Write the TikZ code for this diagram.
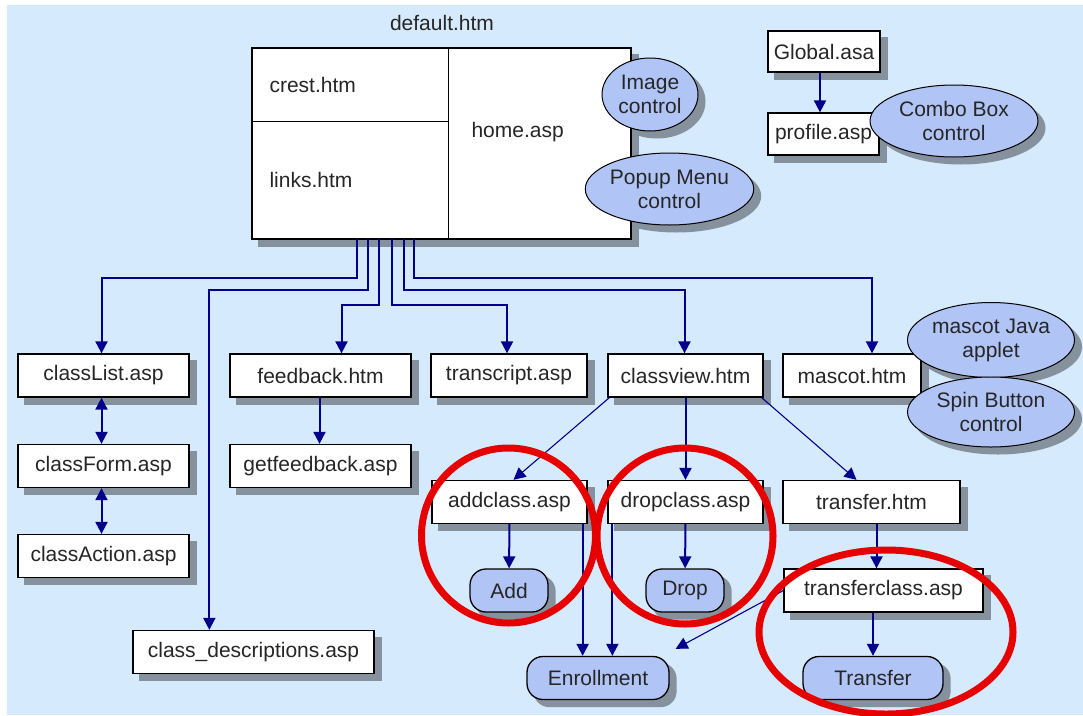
\documentclass[tikz,border=0pt]{standalone}
\usepackage{fontspec}
\setmainfont{Liberation Sans}
\usepackage{xcolor}
\usetikzlibrary{shapes.geometric,arrows.meta,backgrounds,calc}

\definecolor{pagebg}{RGB}{214,234,253}
\definecolor{navy}{RGB}{0,0,140}
\definecolor{pillblue}{RGB}{176,196,246}
\definecolor{ringred}{RGB}{230,0,0}
\colorlet{shadowgray}{black!38!pagebg}

\tikzset{
  txt/.style={font=\fontsize{21}{24}\selectfont, text=black!85},
  file/.style={txt, draw, fill=white, line width=1.3pt, inner sep=0pt, minimum height=43pt},
  pill/.style={file, fill=pillblue, rounded corners=16pt},
  ctrl/.style={txt, ellipse, draw, fill=pillblue, line width=1pt, inner sep=0pt, align=center},
  link/.style={draw=navy, line width=2pt, -{Triangle[width=12pt,length=12pt]}},
  both/.style={link, {Triangle[width=12pt,length=12pt]}-{Triangle[width=12pt,length=12pt]}},
  thin link/.style={link, line width=1.1pt},
  ring/.style={draw=ringred, line width=7pt},
}

\begin{document}
\begin{tikzpicture}[x=1pt,y=-1pt]
  \useasboundingbox (0,0) rectangle (1083,715);

  % frameset
  \node[txt] (deflabel) at (442,23) {default.htm};
  \node[file, minimum width=379pt, minimum height=191pt] (frame) at (441.5,143.5) {};
  \draw[line width=1.3pt] ([xshift=197pt]frame.north west) -- ([xshift=197pt]frame.south west);
  \draw[line width=1.3pt] ([yshift=-74pt]frame.north west) -- ([xshift=197pt,yshift=-74pt]frame.north west);
  \node[txt, anchor=west] (crest) at (266,85) {crest.htm};
  \node[txt, anchor=west] (links) at (266,180) {links.htm};
  \node[txt, anchor=west] (home) at (468,132) {home.asp};
  \node[ctrl, minimum width=96pt, minimum height=73pt] (imgctrl) at (650,94.5) {Image\\control};
  \node[ctrl, minimum width=165pt, minimum height=72pt] (popctrl) at (669.5,189) {Popup Menu\\control};

  % application files
  \node[file, minimum width=112pt, minimum height=41pt] (global) at (824,51.5) {Global.asa};
  \node[file, minimum width=111pt, minimum height=42pt] (profile) at (823.5,134) {profile.asp};
  \node[ctrl, minimum width=168pt, minimum height=72pt] (combo) at (954,121) {Combo Box\\control};

  % first row
  \node[file, minimum width=171pt] (classlist) at (103.5,375.5) {classList.asp};
  \node[file, minimum width=181pt] (feedback) at (320.5,375.5) {feedback.htm};
  \node[file, minimum width=156pt] (transcript) at (509,375.5) {transcript.asp};
  \node[file, minimum width=155pt] (classview) at (685.5,375.5) {classview.htm};
  \node[file, minimum width=138pt] (mascot) at (852,375.5) {mascot.htm};
  \node[ctrl, minimum width=167pt, minimum height=75pt] (java) at (991,340) {mascot Java\\applet};
  \node[ctrl, minimum width=167pt, minimum height=70pt] (spin) at (991,412) {Spin Button\\control};

  % below
  \node[file, minimum width=171pt] (classform) at (103.5,466) {classForm.asp};
  \node[file, minimum width=171pt] (classaction) at (103.5,556) {classAction.asp};
  \node[file, minimum width=181pt] (getfeedback) at (320.5,466) {getfeedback.asp};
  \node[file, minimum width=241pt] (classdesc) at (253.5,652) {class\_descriptions.asp};
  \node[file, minimum width=155pt] (addclass) at (509.5,502) {addclass.asp};
  \node[file, minimum width=155pt] (dropclass) at (685.5,502) {dropclass.asp};
  \node[file, minimum width=177pt] (transfer) at (871.5,502) {transfer.htm};
  \node[file, minimum width=199pt] (transferclass) at (883.5,590.5) {transferclass.asp};
  \node[pill, minimum width=78pt] (add) at (509,590.5) {Add};
  \node[pill, minimum width=78pt] (drop) at (685,590.5) {Drop};
  \node[pill, minimum width=142pt] (enroll) at (598,678) {Enrollment};
  \node[pill, minimum width=140pt] (xfer) at (873,678) {Transfer};

  % links out of the frameset
  \foreach \n/\x in {1/357,2/368,3/379,4/392,5/404,6/414}
    \coordinate (tap\n) at (\x,239);
  \draw[link] (tap1) -- ++(0,39) -| ([xshift=-2pt]classlist.north);
  \draw[link] (tap2) -- ++(0,51) -| ([xshift=77pt]classdesc.north west);
  \draw[link] (tap3) -- ++(0,66) -| ([xshift=21pt]feedback.north);
  \draw[link] (tap4) -- ++(0,66) -| ([xshift=-2pt]transcript.north);
  \draw[link] (tap5) -- ++(0,51) -| ([xshift=-1pt]classview.north);
  \draw[link] (tap6) -- ++(0,39) -| ([xshift=20pt]mascot.north);

  \draw[link] ([xshift=-4pt]global.south) -- ([xshift=-4pt]global.south |- profile.north);
  \draw[both] ([xshift=-2pt]classlist.south) -- ([xshift=-2pt]classform.north);
  \draw[both] ([xshift=-2pt]classform.south) -- ([xshift=-2pt]classaction.north);
  \draw[link] ([xshift=-1pt]feedback.south) -- ([xshift=-1pt]getfeedback.north);

  \draw[thin link] ([xshift=2pt]classview.south west) -- ([xshift=4pt]addclass.north);
  \draw[link] (classview.south) -- (dropclass.north);
  \draw[thin link] ([xshift=-2pt]classview.south east) -- ([xshift=-15pt]transfer.north);

  \draw[link] (addclass) -- (add);
  \draw[link] (dropclass) -- (drop);
  \coordinate (e1) at ([xshift=-5pt]addclass.south east);
  \coordinate (e2) at ([xshift=5pt]dropclass.south west);
  \draw[link] (e1) -- (e1 |- enroll.north);
  \draw[link] (e2) -- (e2 |- enroll.north);
  \coordinate (t1) at ([xshift=5pt]transfer.south);
  \draw[link] (t1) -- (t1 |- transferclass.north);
  \draw[link] (transferclass.south -| xfer.north) -- (xfer.north);
  \draw[thin link] (transferclass.west) -- ([xshift=6pt,yshift=7pt]enroll.north east);

  % highlighted pages
  \draw[ring] (508.5,535.5) ellipse (87pt and 87.5pt);
  \draw[ring] (685,536) ellipse (88pt and 88pt);
  \draw[ring] (886,632) ellipse (127pt and 82pt);

  % page and shadows
  \begin{scope}[on background layer]
    \fill[pagebg] (7,5) rectangle (1083,715);
    \foreach \nd in {frame,global,profile,classlist,feedback,transcript,classview,mascot,
                    classform,classaction,getfeedback,classdesc,addclass,dropclass,transfer,transferclass}
      \fill[shadowgray] ([xshift=7pt,yshift=-7pt]\nd.south west) rectangle ([xshift=7pt,yshift=-7pt]\nd.north east);
    \foreach \nd in {add,drop,enroll,xfer}
      \fill[shadowgray, rounded corners=16pt] ([xshift=7pt,yshift=-7pt]\nd.south west) rectangle ([xshift=7pt,yshift=-7pt]\nd.north east);
    \foreach \nd in {imgctrl,popctrl,combo,java,spin}
      \fill[shadowgray] let \p1=(\nd.east), \p2=(\nd.north), \p3=(\nd.center) in
        ([xshift=7pt,yshift=-7pt]\nd.center) ellipse ({\x1-\x3} and {\y2-\y3});
  \end{scope}
\end{tikzpicture}
\end{document}
